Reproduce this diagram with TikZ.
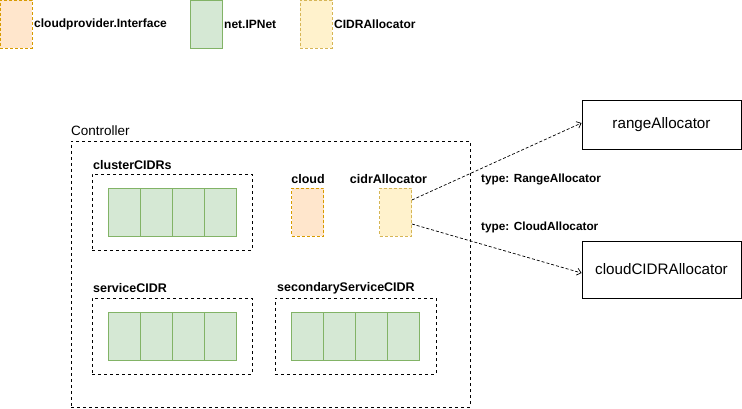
\documentclass[tikz,border=0pt]{standalone}
\usepackage{xcolor}
\usepackage{fontspec}
\setmainfont{Liberation Sans}
\usetikzlibrary{arrows.meta, positioning}
\definecolor{ifcFill}{HTML}{FFE6CC}
\definecolor{ifcDraw}{HTML}{D79B00}
\definecolor{netFill}{HTML}{D5E8D4}
\definecolor{netDraw}{HTML}{82B366}
\definecolor{allocFill}{HTML}{FFF2CC}
\definecolor{allocDraw}{HTML}{D6B656}

\begin{document}
\begin{tikzpicture}[x=1pt, y=-1pt,
    dashbox/.style={rectangle, draw=black, line width=0.8pt, dash pattern=on 3pt off 3pt, inner sep=0pt},
    cell/.style={rectangle, draw=netDraw, fill=netFill, line width=0.9pt, minimum width=32pt, minimum height=48pt, inner sep=0pt},
    ifcbox/.style={rectangle, draw=ifcDraw, fill=ifcFill, line width=0.8pt, dash pattern=on 3pt off 2pt, minimum width=32pt, minimum height=48pt, inner sep=0pt},
    allocbox/.style={rectangle, draw=allocDraw, fill=allocFill, line width=0.8pt, dash pattern=on 3pt off 2pt, minimum width=32pt, minimum height=48pt, inner sep=0pt},
    objbox/.style={rectangle, draw=black, line width=0.9pt, minimum width=159pt, inner sep=0pt, font=\fontsize{15.2}{18}\selectfont},
    lbl/.style={font=\bfseries\fontsize{12.5}{15}\selectfont, inner sep=0pt},
    leg/.style={font=\bfseries\fontsize{12}{14}\selectfont, inner sep=0pt, anchor=west},
    typ/.style={font=\bfseries\fontsize{11.8}{14}\selectfont, inner sep=0pt, anchor=west},
    arr/.style={-{Straight Barb[length=4pt, width=7pt]}, line width=0.7pt, dash pattern=on 3pt off 2pt}
  ]
  \useasboundingbox (0,0) rectangle (742,409);
  % legend
  \node[ifcbox] (legIfc) at (16,24) {};
  \node[leg] at (34,24) {cloudprovider.Interface};
  \node[cell] (legNet) at (206,24) {};
  \node[leg] at (224,24) {net.IPNet};
  \node[allocbox] (legAlloc) at (316,24) {};
  \node[leg] at (334,24) {CIDRAllocator};
  % controller
  \node[dashbox, minimum width=399pt, minimum height=266pt] (ctrl) at (270.5,274) {};
  \node[inner sep=0pt, anchor=west, font=\fontsize{13.5}{16}\selectfont] at (71,131) {Controller};
  % clusterCIDRs
  \node[dashbox, minimum width=160pt, minimum height=76pt] (cluster) at (172,212) {};
  \node[lbl, anchor=west] at (93,165) {clusterCIDRs};
  \foreach \i in {0,...,3}
    \node[cell] (clusterCell\i) at (124+32*\i,212) {};
  % cloud and allocator
  \node[ifcbox] (cloud) at (307.5,212) {};
  \node[lbl] at (308,179) {cloud};
  \node[allocbox] (alloc) at (395.5,212) {};
  \node[lbl] at (388.5,179) {cidrAllocator};
  % serviceCIDR
  \node[dashbox, minimum width=160pt, minimum height=76pt] (service) at (172,336) {};
  \node[lbl, anchor=west] at (93,288) {serviceCIDR};
  \foreach \i in {0,...,3}
    \node[cell] (serviceCell\i) at (124+32*\i,336) {};
  % secondaryServiceCIDR
  \node[dashbox, minimum width=161pt, minimum height=76pt] (secondary) at (355.5,336) {};
  \node[lbl, anchor=west] at (277,288) {secondaryServiceCIDR};
  \foreach \i in {0,...,3}
    \node[cell] (secondaryCell\i) at (307+32*\i,336) {};
  % allocators
  \node[objbox, minimum height=49pt] (range) at (661.5,124.5) {rangeAllocator};
  \node[objbox, minimum height=57pt] (cloudAlloc) at (661.5,269.5) {cloudCIDRAllocator};
  \draw[arr] ([yshift=12pt]alloc.east) -- ([yshift=1.5pt]range.west);
  \draw[arr] ([yshift=-12pt]alloc.east) -- ([yshift=-3.5pt]cloudAlloc.west);
  \node[typ] at (481,179) {type: RangeAllocator};
  \node[typ] at (481,227) {type: CloudAllocator};
\end{tikzpicture}
\end{document}
